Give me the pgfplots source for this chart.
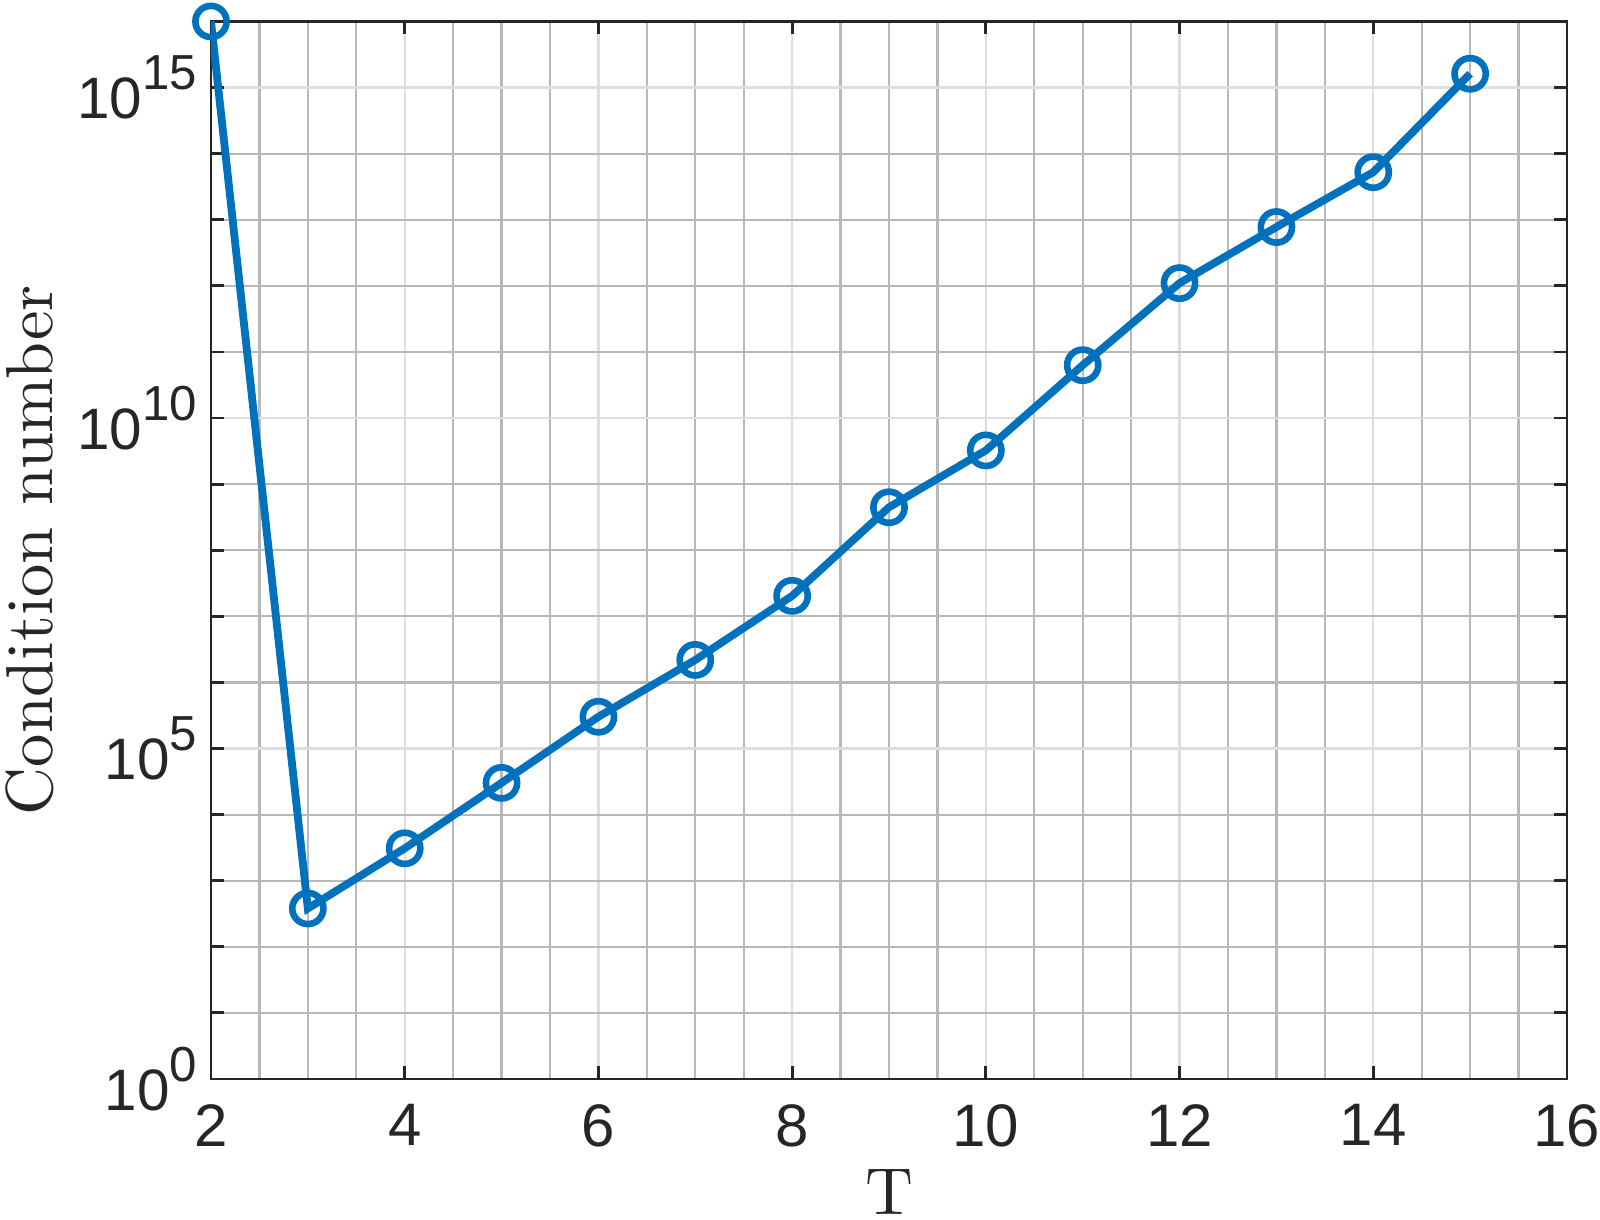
\documentclass[border=0pt]{standalone}
\usepackage{fontspec}
\usepackage{pgfplots}
\pgfplotsset{compat=1.18}
\newfontfamily\arial{Liberation Sans}
\newfontfamily\lmten[Extension=.otf]{lmroman10-regular}
\definecolor{mblue}{RGB}{0,114,189}
\definecolor{axgray}{RGB}{38,38,38}
\newcommand\ylab[1]{10\raisebox{7.25pt}{\fontsize{12.3}{13}\selectfont #1}}
\begin{document}
\begin{tikzpicture}
\useasboundingbox (-52.75pt,-35.25pt) rectangle (347.25pt,269.75pt);
\begin{axis}[
  at={(0,0)}, anchor=south west,
  scale only axis, width=339pt, height=264.375pt,
  ymode=log, log basis y=10,
  xmin=2, xmax=16, ymin=1, ymax=1e16,
  xtick={2,4,...,16},
  minor x tick num=3,
  ytick={1,1e5,1e10,1e15},
  minor ytick={10,100,1000,1e4,1e6,1e7,1e8,1e9,1e11,1e12,1e13,1e14,1e16},
  yticklabels={\ylab{0},\ylab{5},\ylab{10},\ylab{15}},
  grid=both,
  major grid style={draw=black!13, line width=0.6pt},
  minor grid style={draw=black!28, line width=0.55pt},
  tick align=inside,
  major tick length=3.25pt, minor tick length=3.25pt,
  tick style={draw=axgray, line width=0.7pt},
  minor x tick style={draw=none},
  axis line style={draw=axgray, line width=0.7pt},
  /pgf/number format/assume math mode=true,
  xticklabel style={font=\fontsize{15}{18}\selectfont\arial, text=axgray, anchor=north, yshift=-2.75pt},
  yticklabel style={font=\fontsize{14.6}{17}\selectfont\arial, text=axgray},
  xlabel={T}, ylabel={Condition number},
  label style={font=\fontsize{16.6}{20}\selectfont\lmten, text=axgray},
  xlabel style={at={([yshift=-33.8pt]axis description cs:0.5,0)}, anchor=base},
  ylabel style={at={([xshift=-39.5pt]axis description cs:0,0.5)}, anchor=base},
  clip mode=individual,
]
\addplot[mblue, line width=1.95pt, mark=o, mark size=3.9pt, mark options={line width=1.65pt}] coordinates {
(2,1.0e16)
(3,3.8e2)
(4,3.09e3)
(5,3.02e4)
(6,3.02e5)
(7,2.19e6)
(8,2.04e7)
(9,4.47e8)
(10,3.24e9)
(11,6.31e10)
(12,1.10e12)
(13,7.76e12)
(14,5.25e13)
(15,1.62e15)
};
\end{axis}
\end{tikzpicture}
\end{document}
